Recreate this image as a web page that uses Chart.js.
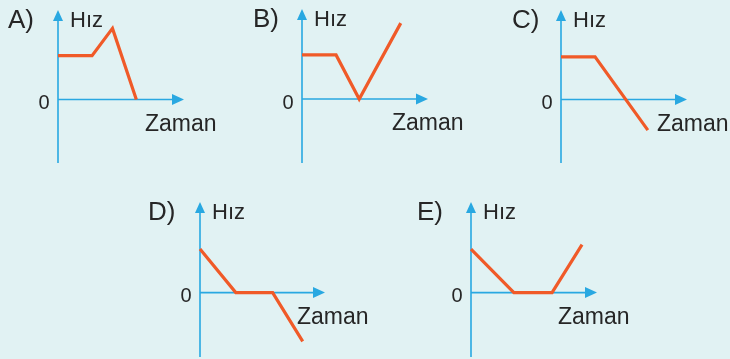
<!DOCTYPE html>
<html>
<head>
<meta charset="utf-8">
<script src="https://cdn.jsdelivr.net/npm/chart.js@4"></script>
<style>
  html, body { margin: 0; padding: 0; }
  body { width: 730px; height: 359px; background: #e1f2f3; position: relative; overflow: hidden; }
  canvas { position: absolute; }
</style>
</head>
<body>
<script>
// Values (time units / speed units)
const panelLetters = ['A)', 'B)', 'C)', 'D)', 'E)'];
const yAxisTitle = 'Hız';
const xAxisTitle = 'Zaman';
const zeroTick = '0';

const timeA = [0, 1, 1.6, 2.3];
const speedA = [1, 1, 1.62, 0];
const timeB = [0, 1, 1.68, 2.9];
const speedB = [1, 1, 0, 1.72];
const timeC = [0, 1, 2.55];
const speedC = [0.97, 0.97, -0.7];
const timeD = [0, 1.06, 2.15, 3.04];
const speedD = [0.98, 0, 0, -1.1];
const timeE = [0, 1.26, 2.38, 3.26];
const speedE = [0.98, 0, 0, 1.08];

const timeMax = 3.7;
const speedMin = -1.45;
const speedMax = 2.04;

const axisBlue = '#29a8e1';
const lineOrange = '#f05a28';
const textGrey = '#262626';

// where each little graph sits on the page (origin x, axis top, axis bottom, arrow tip x, "Zaman" offset)
const panels = [
    { time: timeA, speed: speedA, ox: 58, top: 10, bottom: 163, tip: 184, zaman: 87, letterDx: -50 },
    { time: timeB, speed: speedB, ox: 302, top: 9, bottom: 163, tip: 428, zaman: 90, letterDx: -49 },
    { time: timeC, speed: speedC, ox: 561, top: 10, bottom: 163, tip: 687, zaman: 96, letterDx: -49 },
    { time: timeD, speed: speedD, ox: 200, top: 202, bottom: 357, tip: 325, zaman: 97, letterDx: -52 },
    { time: timeE, speed: speedE, ox: 471, top: 202, bottom: 357, tip: 597, zaman: 87, letterDx: -54 }
];

const padL = 60, padT = 12, padR = 50, padB = 4;

/**
 * Draws the blue axes with arrow heads, then the labels.
 */
const axesPlugin = {
    id: 'axes',
    beforeDatasetsDraw (chart, args, opts) {
        let ctx = chart.ctx,
            xs = chart.scales.x,
            ys = chart.scales.y,
            x0 = xs.getPixelForValue(0),
            y0 = ys.getPixelForValue(0),
            yTop = ys.getPixelForValue(speedMax),
            yBot = ys.getPixelForValue(speedMin),
            xTip = xs.getPixelForValue(timeMax)

        ctx.save()
        ctx.strokeStyle = axisBlue
        ctx.fillStyle = axisBlue
        ctx.lineWidth = 1.6
        ctx.beginPath()
        ctx.moveTo(x0, yBot)
        ctx.lineTo(x0, yTop + 8)
        ctx.moveTo(x0, y0)
        ctx.lineTo(xTip - 8, y0)
        ctx.stroke()

        // arrow heads
        ctx.beginPath()
        ctx.moveTo(x0, yTop)
        ctx.lineTo(x0 - 5, yTop + 11)
        ctx.lineTo(x0 + 5, yTop + 11)
        ctx.closePath()
        ctx.fill()
        ctx.beginPath()
        ctx.moveTo(xTip, y0)
        ctx.lineTo(xTip - 12, y0 - 5.5)
        ctx.lineTo(xTip - 12, y0 + 5.5)
        ctx.closePath()
        ctx.fill()
        ctx.restore()
    },
    afterDraw (chart, args, opts) {
        let ctx = chart.ctx,
            xs = chart.scales.x,
            ys = chart.scales.y,
            x0 = xs.getPixelForValue(0),
            y0 = ys.getPixelForValue(0),
            yTop = ys.getPixelForValue(speedMax)

        ctx.save()
        ctx.fillStyle = textGrey
        ctx.textBaseline = 'middle'
        ctx.textAlign = 'left'
        ctx.font = '26px "Liberation Sans", Arial, sans-serif'
        ctx.fillText(opts.letter, x0 + opts.letterDx, yTop + 11)
        ctx.font = '22px "Liberation Sans", Arial, sans-serif'
        ctx.fillText(yAxisTitle, x0 + 12, yTop + 11)
        ctx.font = '23px "Liberation Sans", Arial, sans-serif'
        ctx.fillText(xAxisTitle, x0 + opts.zaman, y0 + 25)
        ctx.textAlign = 'center'
        ctx.font = '20px "Liberation Sans", Arial, sans-serif'
        ctx.fillText(zeroTick, x0 - 14, y0 + 4)
        ctx.restore()
    }
}

function makePanel (p, i) {
    let canvas = document.createElement('canvas'),
        w = (p.tip - p.ox) + padL + padR,
        h = (p.bottom - p.top) + padT + padB

    canvas.width = w
    canvas.height = h
    canvas.style.left = (p.ox - padL) + 'px'
    canvas.style.top = (p.top - padT) + 'px'
    canvas.style.width = w + 'px'
    canvas.style.height = h + 'px'
    document.body.appendChild(canvas)

    new Chart(canvas.getContext('2d'), {
        type: 'line',
        data: {
            datasets: [{
                data: p.time.map((t, k) => ({ x: t, y: p.speed[k] })),
                borderColor: lineOrange,
                borderWidth: 3.2,
                borderJoinStyle: 'miter',
                pointRadius: 0,
                tension: 0,
                clip: false
            }]
        },
        options: {
            responsive: false,
            animation: false,
            devicePixelRatio: 1,
            layout: { padding: { left: padL, top: padT, right: padR, bottom: padB } },
            scales: {
                x: { type: 'linear', min: 0, max: timeMax, display: false },
                y: { type: 'linear', min: speedMin, max: speedMax, display: false }
            },
            plugins: {
                legend: { display: false },
                tooltip: { enabled: false },
                axes: { letter: panelLetters[i], zaman: p.zaman, letterDx: p.letterDx }
            }
        },
        plugins: [axesPlugin]
    })
}

panels.forEach(makePanel)
</script>
</body>
</html>
